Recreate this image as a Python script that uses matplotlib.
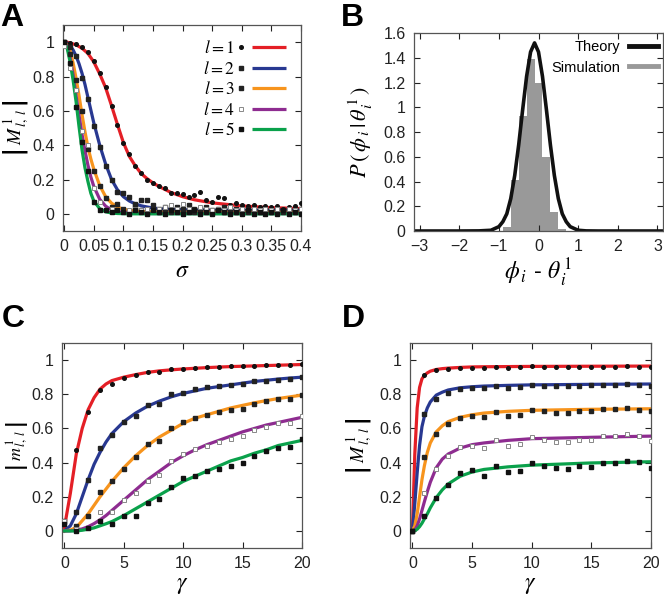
#!/usr/bin/env python3
"""Overlap vs noise / gain: four-panel figure."""

import numpy as np
import matplotlib
matplotlib.use('Agg')
import matplotlib.pyplot as plt
from matplotlib.lines import Line2D
from matplotlib.legend_handler import HandlerBase
from matplotlib.ticker import FormatStrFormatter

plt.rcParams['font.family'] = ['Liberation Sans', 'DejaVu Sans']
plt.rcParams['mathtext.fontset'] = 'stix'

colors = ['#e41f26', '#283891', '#f7941d', '#8e2c90', '#0aa14b']
labels = [r'$l = 1$', r'$l = 2$', r'$l = 3$', r'$l = 4$', r'$l = 5$']

# ---- panel A: |M| vs sigma ----
sigma_pts = [round(0.01 * k, 2) for k in range(41)]
A_pts = [
    [1.0, 0.995, 0.99, 0.97, 0.94, 0.89, 0.82, 0.74, 0.63, 0.52, 0.41, 0.35, 0.28, 0.24, 0.2,
     0.18, 0.16, 0.15, 0.12, 0.12, 0.115, 0.1, 0.11, 0.125, 0.08, 0.07, 0.1, 0.09, 0.05, 0.065,
     0.05, 0.045, 0.05, 0.04, 0.045, 0.04, 0.045, 0.03, 0.04, 0.045, 0.065],
    [1.0, 0.97, 0.92, 0.79, 0.67, 0.51, 0.39, 0.28, 0.2, 0.13, 0.12, 0.1, 0.06, 0.08, 0.08,
     0.05, 0.03, 0.04, 0.03, 0.04, 0.03, 0.05, 0.03, 0.02, 0.04, 0.02, 0.03, 0.04, 0.02, 0.03,
     0.02, 0.03, 0.025, 0.02, 0.03, 0.02, 0.03, 0.02, 0.03, 0.02, 0.03],
    [1.0, 0.93, 0.78, 0.6, 0.38, 0.25, 0.16, 0.09, 0.04, 0.06, 0.03, 0.01, 0.04, 0.02, 0.01,
     0.03, 0.01, 0.02, 0.01, 0.03, 0.01, 0.02, 0.01, 0.03, 0.02, 0.01, 0.02, 0.01, 0.03, 0.01,
     0.02, 0.01, 0.02, 0.01, 0.02, 0.01, 0.02, 0.01, 0.02, 0.01, 0.02],
    [0.98, 0.85, 0.72, 0.48, 0.4, 0.15, 0.07, 0.02, 0.03, 0.02, 0.01, 0.02, 0.03, 0.02, 0.03,
     0.02, 0.03, 0.04, 0.05, 0.03, 0.06, 0.03, 0.02, 0.04, 0.03, 0.02, 0.03, 0.02, 0.04, 0.02,
     0.03, 0.02, 0.03, 0.02, 0.03, 0.02, 0.03, 0.02, 0.03, 0.02, 0.03],
    [1.0, 0.88, 0.62, 0.42, 0.25, 0.07, 0.02, 0.02, 0.01, 0.02, 0.01, 0.0, 0.02, 0.01, 0.0,
     0.02, 0.01, 0.0, 0.02, 0.01, 0.0, 0.01, 0.02, 0.0, 0.01, 0.0, 0.02, 0.01, 0.0, 0.01,
     0.0, 0.02, 0.0, 0.01, 0.0, 0.01, 0.0, 0.02, 0.0, 0.01, 0.0],
]
sigma_fit = [0, 0.005, 0.01, 0.015, 0.02, 0.025, 0.03, 0.035, 0.04, 0.045, 0.05, 0.06, 0.07,
             0.08, 0.09, 0.1, 0.11, 0.12, 0.13, 0.14, 0.15, 0.16, 0.18, 0.2, 0.22, 0.25, 0.3,
             0.35, 0.4]
A_fit = [
    [1, 1, 0.995, 0.99, 0.985, 0.975, 0.965, 0.95, 0.935, 0.91, 0.885, 0.815, 0.735, 0.63,
     0.52, 0.415, 0.335, 0.28, 0.235, 0.205, 0.18, 0.16, 0.125, 0.1, 0.082, 0.064, 0.046,
     0.036, 0.031],
    [1, 0.995, 0.98, 0.955, 0.92, 0.875, 0.82, 0.755, 0.68, 0.605, 0.53, 0.4, 0.29, 0.2, 0.14,
     0.1, 0.075, 0.058, 0.047, 0.04, 0.034, 0.03, 0.026, 0.024, 0.022, 0.021, 0.02, 0.02, 0.02],
    [1, 0.985, 0.95, 0.88, 0.79, 0.69, 0.58, 0.48, 0.39, 0.32, 0.26, 0.165, 0.1, 0.062, 0.04,
     0.027, 0.02, 0.016, 0.013, 0.012, 0.011, 0.01, 0.01, 0.01, 0.01, 0.01, 0.01, 0.01, 0.01],
    [1, 0.975, 0.91, 0.81, 0.69, 0.575, 0.465, 0.37, 0.285, 0.215, 0.16, 0.085, 0.045, 0.022,
     0.012, 0.007, 0.005, 0.004, 0.003, 0.003, 0.002, 0.002, 0.002, 0.002, 0.002, 0.002,
     0.002, 0.002, 0.002],
    [1, 0.965, 0.885, 0.78, 0.655, 0.51, 0.375, 0.27, 0.19, 0.12, 0.075, 0.03, 0.012, 0.005,
     0.002, 0.001, 0, 0, 0, 0, 0, 0, 0, 0, 0, 0, 0, 0, 0],
]

# ---- panel B: distribution of phase difference ----
hist_centers = [-0.8, -0.6, -0.4, -0.2, 0.0, 0.2, 0.4, 0.6]
hist_heights = [0.03, 0.41, 0.93, 1.39, 1.2, 0.6, 0.15, 0.02]
phi = [-np.pi, -2.0, -1.5, -1.2, -1.0, -0.9, -0.8, -0.7, -0.6, -0.5, -0.4, -0.3, -0.2, -0.1,
       0.0, 0.1, 0.2, 0.3, 0.4, 0.5, 0.6, 0.7, 0.8, 1.0, 1.2, 1.5, 2.0, np.pi]
theory = [0, 0, 0.001, 0.006, 0.035, 0.075, 0.139, 0.262, 0.449, 0.696, 0.98, 1.25, 1.447,
          1.52, 1.447, 1.25, 0.98, 0.696, 0.449, 0.262, 0.139, 0.075, 0.035, 0.006, 0.001, 0,
          0, 0]

# ---- panels C, D: vs gamma ----
gamma_pts = list(range(21))
C_pts = [
    [0.05, 0.476, 0.697, 0.825, 0.858, 0.895, 0.91, 0.93, 0.93, 0.945, 0.95, 0.955, 0.96,
     0.96, 0.965, 0.965, 0.965, 0.97, 0.97, 0.97, 0.975],
    [0.06, 0.11, 0.3, 0.485, 0.56, 0.635, 0.675, 0.735, 0.745, 0.8, 0.81, 0.83, 0.84, 0.85,
     0.855, 0.86, 0.875, 0.88, 0.885, 0.89, 0.9],
    [0.05, 0.03, 0.09, 0.23, 0.29, 0.365, 0.43, 0.51, 0.525, 0.6, 0.635, 0.66, 0.68, 0.695,
     0.705, 0.715, 0.745, 0.76, 0.77, 0.77, 0.795],
    [0.06, 0.01, 0.02, 0.11, 0.11, 0.18, 0.22, 0.29, 0.33, 0.41, 0.45, 0.48, 0.5, 0.52, 0.54,
     0.555, 0.59, 0.61, 0.63, 0.63, 0.67],
    [0.04, 0.0, 0.02, 0.06, 0.04, 0.085, 0.09, 0.165, 0.185, 0.255, 0.31, 0.32, 0.35, 0.365,
     0.38, 0.4, 0.44, 0.47, 0.485, 0.49, 0.54],
]
gamma_fit = [0, 0.5, 1, 1.5, 2, 2.5, 3, 3.5, 4, 5, 6, 7, 8, 9, 10, 11, 12, 13, 14, 15, 16,
             17, 18, 19, 20]
C_fit = [
    [0.02, 0.22, 0.45, 0.6, 0.71, 0.78, 0.83, 0.86, 0.88, 0.9, 0.915, 0.928, 0.937, 0.943,
     0.948, 0.952, 0.956, 0.959, 0.962, 0.964, 0.966, 0.968, 0.97, 0.972, 0.974],
    [0.0, 0.03, 0.1, 0.2, 0.3, 0.39, 0.46, 0.52, 0.57, 0.64, 0.69, 0.73, 0.76, 0.785, 0.805,
     0.82, 0.835, 0.845, 0.855, 0.865, 0.875, 0.882, 0.889, 0.895, 0.9],
    [0.0, 0.005, 0.02, 0.06, 0.1, 0.15, 0.2, 0.245, 0.29, 0.37, 0.44, 0.5, 0.55, 0.59, 0.63,
     0.66, 0.68, 0.7, 0.72, 0.735, 0.75, 0.763, 0.775, 0.785, 0.795],
    [0.0, 0.0, 0.005, 0.012, 0.025, 0.043, 0.065, 0.09, 0.12, 0.18, 0.24, 0.3, 0.35, 0.4,
     0.44, 0.475, 0.505, 0.53, 0.555, 0.58, 0.6, 0.62, 0.635, 0.65, 0.665],
    [0.0, 0.0, 0.0, 0.004, 0.01, 0.018, 0.03, 0.042, 0.055, 0.09, 0.13, 0.17, 0.21, 0.25,
     0.29, 0.32, 0.35, 0.38, 0.41, 0.43, 0.455, 0.475, 0.5, 0.515, 0.53],
]
D_pts = [
    [0.0, 0.91, 0.94, 0.95, 0.955, 0.955, 0.955, 0.96, 0.955, 0.96, 0.965, 0.96, 0.96, 0.96,
     0.96, 0.96, 0.96, 0.96, 0.965, 0.96, 0.96],
    [0.0, 0.685, 0.775, 0.81, 0.83, 0.835, 0.835, 0.85, 0.835, 0.84, 0.855, 0.85, 0.85, 0.85,
     0.85, 0.855, 0.855, 0.855, 0.86, 0.855, 0.85],
    [0.0, 0.43, 0.565, 0.625, 0.66, 0.67, 0.665, 0.695, 0.67, 0.68, 0.71, 0.7, 0.69, 0.69,
     0.7, 0.7, 0.715, 0.715, 0.72, 0.71, 0.7],
    [0.0, 0.22, 0.36, 0.44, 0.49, 0.5, 0.485, 0.535, 0.5, 0.51, 0.55, 0.53, 0.52, 0.52, 0.53,
     0.53, 0.555, 0.555, 0.565, 0.555, 0.525],
    [0.0, 0.09, 0.19, 0.27, 0.34, 0.355, 0.32, 0.38, 0.345, 0.35, 0.395, 0.38, 0.37, 0.365,
     0.38, 0.375, 0.4, 0.4, 0.41, 0.405, 0.37],
]
gamma_fit_d = [0, 0.2, 0.4, 0.6, 0.8, 1, 1.25, 1.5, 2, 2.5, 3, 4, 5, 6, 8, 10, 15, 20]
D_fit = [
    [0, 0.45, 0.72, 0.84, 0.89, 0.91, 0.925, 0.935, 0.945, 0.95, 0.953, 0.957, 0.96, 0.961,
     0.962, 0.963, 0.964, 0.965],
    [0, 0.16, 0.34, 0.5, 0.61, 0.67, 0.72, 0.755, 0.795, 0.812, 0.825, 0.838, 0.844, 0.848,
     0.852, 0.855, 0.858, 0.86],
    [0, 0.03, 0.1, 0.2, 0.3, 0.38, 0.46, 0.515, 0.58, 0.615, 0.64, 0.665, 0.68, 0.69, 0.7,
     0.706, 0.712, 0.715],
    [0, 0.005, 0.03, 0.07, 0.12, 0.17, 0.23, 0.285, 0.37, 0.42, 0.45, 0.485, 0.505, 0.515,
     0.53, 0.54, 0.548, 0.555],
    [0, 0.002, 0.01, 0.025, 0.045, 0.07, 0.1, 0.135, 0.195, 0.24, 0.275, 0.32, 0.345, 0.36,
     0.375, 0.385, 0.398, 0.405],
]

marker_style = [
    dict(marker='o', ms=2.6, mfc='#111111', mec='#111111'),
    dict(marker='s', ms=3.0, mfc='#222222', mec='#222222'),
    dict(marker='s', ms=3.0, mfc='#222222', mec='#222222'),
    dict(marker='s', ms=3.4, mfc='white', mec='#888888', mew=0.7),
    dict(marker='s', ms=3.0, mfc='#111111', mec='#111111'),
]


class MarkThenLine(HandlerBase):
    def create_artists(self, legend, orig, xdescent, ydescent, width, height, fontsize, trans):
        pts, line = orig
        y = height / 2 - ydescent
        m = Line2D([-xdescent + 2], [y], ls='none', marker=pts.get_marker(),
                   ms=pts.get_markersize(), mfc=pts.get_markerfacecolor(),
                   mec=pts.get_markeredgecolor(), mew=pts.get_markeredgewidth(), transform=trans)
        ln = Line2D([-xdescent + 10, -xdescent + width], [y, y], color=line.get_color(),
                    lw=line.get_linewidth(), solid_capstyle='butt', transform=trans)
        return [m, ln]


def style_axes(ax, ylab_x):
    ax.tick_params(direction='in', top=True, right=True, length=4, width=0.8,
                   labelsize=11.5, colors='#222222', pad=6)
    for s in ax.spines.values():
        s.set_color('#555555')
        s.set_linewidth(0.9)
    # label anchor is its right edge (rotated text, va='bottom')
    ax.yaxis.set_label_coords(ylab_x, 0.5)


M_label = r'$\left|\;M^{\,1}_{\,l,\;l}\;\right|$'
m_label = r'$\left|\;m^{\,1}_{\,l,\;l}\;\right|$'

fig = plt.figure(figsize=(6.64, 5.96), dpi=100)
axA = fig.add_axes([0.0949, 0.6124, 0.3584, 0.3456])
axB = fig.add_axes([0.6235, 0.6124, 0.3750, 0.3322])
axC = fig.add_axes([0.0934, 0.0805, 0.3614, 0.3440])
axD = fig.add_axes([0.6175, 0.0805, 0.3630, 0.3440])

# A
handles = []
for i in range(5):
    ln, = axA.plot(sigma_fit, A_fit[i], color=colors[i], lw=2.3, zorder=2)
    pt, = axA.plot(sigma_pts, A_pts[i], ls='none', zorder=3, **marker_style[i])
    handles.append((pt, ln))
axA.set_xlim(-0.002, 0.4)
axA.set_ylim(-0.1, 1.1)
axA.set_xticks([0, 0.05, 0.1, 0.15, 0.2, 0.25, 0.3, 0.35, 0.4])
axA.set_yticks([0, 0.2, 0.4, 0.6, 0.8, 1])
axA.xaxis.set_major_formatter(FormatStrFormatter('%g'))
axA.yaxis.set_major_formatter(FormatStrFormatter('%g'))
axA.set_xlabel(r'$\sigma$', fontsize=17, labelpad=4)
axA.set_ylabel(M_label, fontsize=14)
axA.legend(handles, labels, handler_map={tuple: MarkThenLine()}, loc='upper right',
           bbox_to_anchor=(0.935, 0.93), frameon=False, markerfirst=False, fontsize=12.5,
           handlelength=2.75, handletextpad=0.15, labelspacing=0.2, borderaxespad=0,
           borderpad=0)
style_axes(axA, -0.13)

# B
axB.bar(hist_centers, hist_heights, width=0.2, color='#999999', edgecolor='none',
        label='Simulation', zorder=1)
axB.plot(phi, theory, color='#111111', lw=2.6, label='Theory', zorder=2)
axB.set_xlim(-np.pi, np.pi)
axB.set_ylim(0, 1.6)
axB.set_xticks([-3, -2, -1, 0, 1, 2, 3])
axB.set_yticks([0, 0.2, 0.4, 0.6, 0.8, 1, 1.2, 1.4, 1.6])
axB.yaxis.set_major_formatter(FormatStrFormatter('%g'))
axB.set_xlabel(r'$\phi_{\,i}$ - $\theta^{\,1}_{\,i}$', fontsize=17, labelpad=2)
axB.set_ylabel(r'$P\,(\,\phi_{\,i}\,|\,\theta^{\,1}_{\,i}\,)$', fontsize=16)
legB = [Line2D([], [], color='#111111', lw=3.5), Line2D([], [], color='#999999', lw=3.5)]
axB.legend(legB, ['Theory', 'Simulation'], loc='upper right', bbox_to_anchor=(0.98, 0.965),
           frameon=False, markerfirst=False, fontsize=10.5, handlelength=2.0,
           handletextpad=0.6, labelspacing=0.45, borderaxespad=0, borderpad=0)
style_axes(axB, -0.155)

# C and D
for ax, pts, fx, fit, ylab, lx, fs in [(axC, C_pts, gamma_fit, C_fit, m_label, -0.13, 13),
                                       (axD, D_pts, gamma_fit_d, D_fit, M_label, -0.145, 14)]:
    for i in range(5):
        ax.plot(fx, fit[i], color=colors[i], lw=2.3, zorder=2)
        ax.plot(gamma_pts, pts[i], ls='none', zorder=3, **marker_style[i])
    ax.set_xlim(-0.2, 20)
    ax.set_ylim(-0.1, 1.1)
    ax.set_xticks([0, 5, 10, 15, 20])
    ax.set_yticks([0, 0.2, 0.4, 0.6, 0.8, 1])
    ax.yaxis.set_major_formatter(FormatStrFormatter('%g'))
    ax.set_xlabel(r'$\gamma$', fontsize=17, labelpad=2)
    ax.set_ylabel(ylab, fontsize=fs)
    style_axes(ax, lx)

for lab, x, y in [('A', 0.0, 0.995), ('B', 0.513, 0.995), ('C', 0.003, 0.49), ('D', 0.515, 0.49)]:
    fig.text(x, y, lab, fontsize=23, fontweight='bold', va='top', ha='left')

fig.savefig('out.png', dpi=100)
